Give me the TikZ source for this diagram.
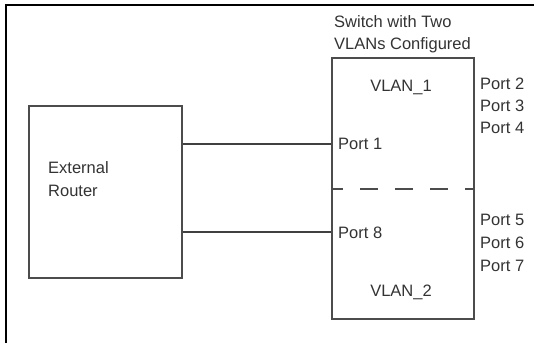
\documentclass[tikz,border=0pt]{standalone}
\usepackage{fontspec}
\setmainfont{Liberation Sans}
\begin{document}
\begin{tikzpicture}[x=1bp,y=-1bp,
  box/.style={draw=black!70, line width=1.8bp, rectangle, inner sep=0pt},
  lbl/.style={font=\fontsize{16.5bp}{20bp}\selectfont, text=black!80, inner sep=0pt},
  wire/.style={draw=black!75, line width=1.3bp}]
\useasboundingbox (0,0) rectangle (534,343);
\draw[line width=2.2bp] (6,343) -- (6,5) -- (534,5);
\node[box, minimum width=153bp, minimum height=172bp] (router) at (105.5,192) {};
\node[box, minimum width=142bp, minimum height=261bp] (switch) at (403,188.5) {};
\node[lbl, anchor=west] (ext) at (48,168) {External};
\node[lbl, anchor=west] (rtr) at (48,191) {Router};
\node[lbl, anchor=west] (t1) at (334,22) {Switch with Two};
\node[lbl, anchor=west] (t2) at (334,45) {VLANs Configured};
\node[lbl] (v1) at (401,87) {VLAN\_1};
\node[lbl] (v2) at (401,292) {VLAN\_2};
\node[lbl, anchor=west] (p1) at (338,144) {Port 1};
\node[lbl, anchor=west] (p8) at (338,233) {Port 8};
\node[lbl, anchor=west] (p2) at (480,84) {Port 2};
\node[lbl, anchor=west] (p3) at (480,106) {Port 3};
\node[lbl, anchor=west] (p4) at (480,128) {Port 4};
\node[lbl, anchor=west] (p5) at (480,220) {Port 5};
\node[lbl, anchor=west] (p6) at (480,243) {Port 6};
\node[lbl, anchor=west] (p7) at (480,266) {Port 7};
\coordinate (d1) at (switch.west |- 0,189);
\coordinate (d2) at (switch.east |- 0,189);
\draw[draw=black!70, line width=1.6bp, dash pattern=on 18bp off 17bp, dash phase=6bp] (d1) -- (d2);
\draw[wire] (router.east |- 0,144) -- (switch.west |- 0,144);
\draw[wire] (router.east |- 0,232) -- (switch.west |- 0,232);
\end{tikzpicture}
\end{document}
